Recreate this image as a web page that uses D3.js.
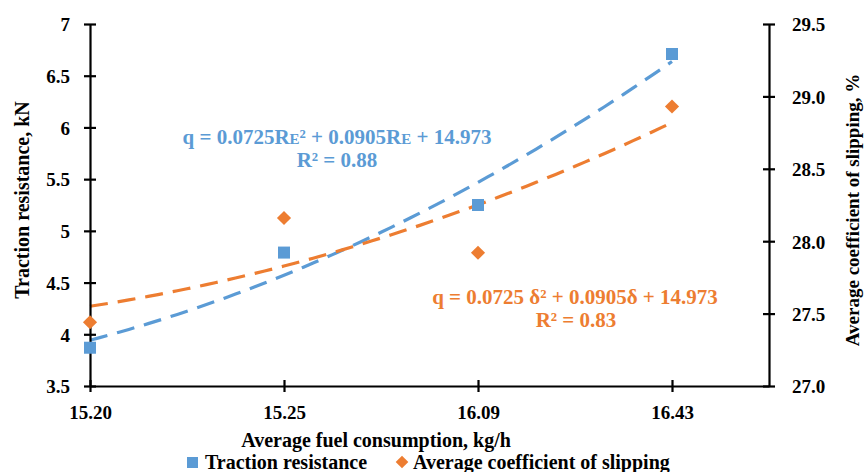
<!DOCTYPE html>
<html><head><meta charset="utf-8">
<script src="https://cdn.jsdelivr.net/npm/d3@7"></script>
<style>
html,body{margin:0;padding:0;background:#fff;}
text{font-family:"Liberation Serif","Times New Roman",serif;font-weight:bold;}
</style></head>
<body>
<svg id="c" width="865" height="472"></svg>
<script>
const categories = ["15.20", "15.25", "16.09", "16.43"];
const tractionResistance = [3.87, 4.79, 5.25, 6.71];
const slippingCoefficient = [27.44, 28.16, 27.92, 28.93];
const leftTicks = [3.5, 4, 4.5, 5, 5.5, 6, 6.5, 7];
const rightTicks = [27.0, 27.5, 28.0, 28.5, 29.0, 29.5];
const seriesNames = ["Traction resistance", "Average coefficient of slipping"];
const colors = ["#5B9BD5", "#ED7D31"];

const svg = d3.select("#c");
const L = 90, R = 769, T = 24, B = 386;
const x = d3.scaleLinear().domain([0, 3.5]).range([L, R]);
const yL = d3.scaleLinear().domain([3.5, 7]).range([B, T]);
const yR = d3.scaleLinear().domain([27, 29.5]).range([B, T]);

// quadratic least-squares trendline (x = 1..n like a spreadsheet)
function quadFit(ys) {
  const xs = ys.map((_, i) => i + 1);
  let S = [[0,0,0],[0,0,0],[0,0,0]], v = [0,0,0];
  xs.forEach((xi, k) => {
    const p = [1, xi, xi*xi];
    for (let i=0;i<3;i++){ v[i]+=p[i]*ys[k]; for(let j=0;j<3;j++) S[i][j]+=p[i]*p[j]; }
  });
  const A = S.map((r,i)=>r.concat([v[i]]));
  for (let i=0;i<3;i++){
    for (let k=i+1;k<3;k++){ const f=A[k][i]/A[i][i]; for(let j=i;j<4;j++) A[k][j]-=f*A[i][j]; }
  }
  const c=[0,0,0];
  for (let i=2;i>=0;i--){ let s=A[i][3]; for(let j=i+1;j<3;j++) s-=A[i][j]*c[j]; c[i]=s/A[i][i]; }
  return t => c[0] + c[1]*t + c[2]*t*t;
}

function drawTrend(ys, yScale, color) {
  const f = quadFit(ys);
  const pts = d3.range(0, 3.0001, 0.05).map(i => [x(i), yScale(f(i + 1))]);
  svg.append("path").attr("d", d3.line()(pts))
    .attr("fill", "none").attr("stroke", color).attr("stroke-width", 3.2)
    .attr("stroke-dasharray", "18,10");
}
drawTrend(tractionResistance, yL, colors[0]);
drawTrend(slippingCoefficient, yR, colors[1]);

// axes
const fs = 19;
const gx = svg.append("g").attr("transform", `translate(0,${B})`)
  .call(d3.axisBottom(x).tickValues([0,1,2,3]).tickFormat(i => categories[i]).tickSizeOuter(0).tickPadding(14));
const gl = svg.append("g").attr("transform", `translate(${L},0)`)
  .call(d3.axisLeft(yL).tickValues(leftTicks).tickFormat(d3.format("~g")).tickSizeOuter(0).tickPadding(14));
const gr = svg.append("g").attr("transform", `translate(${R},0)`)
  .call(d3.axisRight(yR).tickValues(rightTicks).tickFormat(d3.format(".1f")).tickSizeOuter(0).tickPadding(17));
[gx, gl, gr].forEach(g => {
  g.select(".domain").attr("stroke", "#000").attr("stroke-width", 2.2);
  g.selectAll("text").attr("font-size", fs).attr("fill", "#000")
    .style("font-family", '"Liberation Serif","Times New Roman",serif').style("font-weight", "bold");
});
gx.selectAll(".tick line").attr("y1", -6).attr("y2", 6).attr("stroke-width", 2.2);
gl.selectAll(".tick line").attr("x1", -6).attr("x2", 6).attr("stroke-width", 2.2);
gr.selectAll(".tick line").attr("x1", -6).attr("x2", 6).attr("stroke-width", 2.2);
gl.selectAll(".tick text").attr("dy", "0.36em");
gr.selectAll(".tick text").attr("dy", "0.36em");

// markers
svg.append("g").selectAll("rect").data(tractionResistance).join("rect")
  .attr("x", (d,i) => x(i) - 6).attr("y", d => yL(d) - 6)
  .attr("width", 12).attr("height", 12).attr("fill", colors[0]);
svg.append("g").selectAll("path").data(slippingCoefficient).join("path")
  .attr("d", d3.symbol(d3.symbolSquare, 100))
  .attr("transform", (d,i) => `translate(${x(i)},${yR(d)}) rotate(45)`)
  .attr("fill", colors[1]);

// axis titles
svg.append("text").attr("transform", "translate(22,200) rotate(-90)")
  .attr("text-anchor", "middle").attr("dy", "0.35em").attr("font-size", 20).text("Traction resistance, kN");
svg.append("text").attr("transform", "translate(852,210) rotate(-90)")
  .attr("text-anchor", "middle").attr("dy", "0.35em").attr("font-size", 19).text("Average coefficient of slipping, %");
svg.append("text").attr("x", 376).attr("y", 440).attr("dy", "0.35em")
  .attr("text-anchor", "middle").attr("font-size", 20).text("Average fuel consumption, kg/h");

// equations
const eq1 = svg.append("text").attr("x", 337).attr("y", 137).attr("dy", "0.35em")
  .attr("text-anchor", "middle").attr("font-size", 21).attr("fill", colors[0]);
eq1.append("tspan").text("q = 0.0725R");
eq1.append("tspan").attr("font-size", 15).text("E");
eq1.append("tspan").text("² + 0.0905R");
eq1.append("tspan").attr("font-size", 15).text("E");
eq1.append("tspan").text(" + 14.973");
svg.append("text").attr("x", 337).attr("y", 160).attr("dy", "0.35em")
  .attr("text-anchor", "middle").attr("font-size", 21).attr("fill", colors[0]).text("R² = 0.88");
svg.append("text").attr("x", 575).attr("y", 297).attr("dy", "0.35em")
  .attr("text-anchor", "middle").attr("font-size", 21).attr("fill", colors[1]).text("q = 0.0725 δ² + 0.0905δ + 14.973");
svg.append("text").attr("x", 576).attr("y", 320).attr("dy", "0.35em")
  .attr("text-anchor", "middle").attr("font-size", 21).attr("fill", colors[1]).text("R² = 0.83");

// legend
const lg = svg.append("g");
lg.append("rect").attr("x", 187).attr("y", 457).attr("width", 11).attr("height", 11).attr("fill", colors[0]);
lg.append("text").attr("x", 205).attr("y", 462).attr("dy", "0.35em").attr("font-size", 20).text(seriesNames[0]);
lg.append("path").attr("d", d3.symbol(d3.symbolSquare, 80)).attr("transform", "translate(402,462) rotate(45)").attr("fill", colors[1]);
lg.append("text").attr("x", 413).attr("y", 462).attr("dy", "0.35em").attr("font-size", 20).text(seriesNames[1]);
</script>
</body></html>
